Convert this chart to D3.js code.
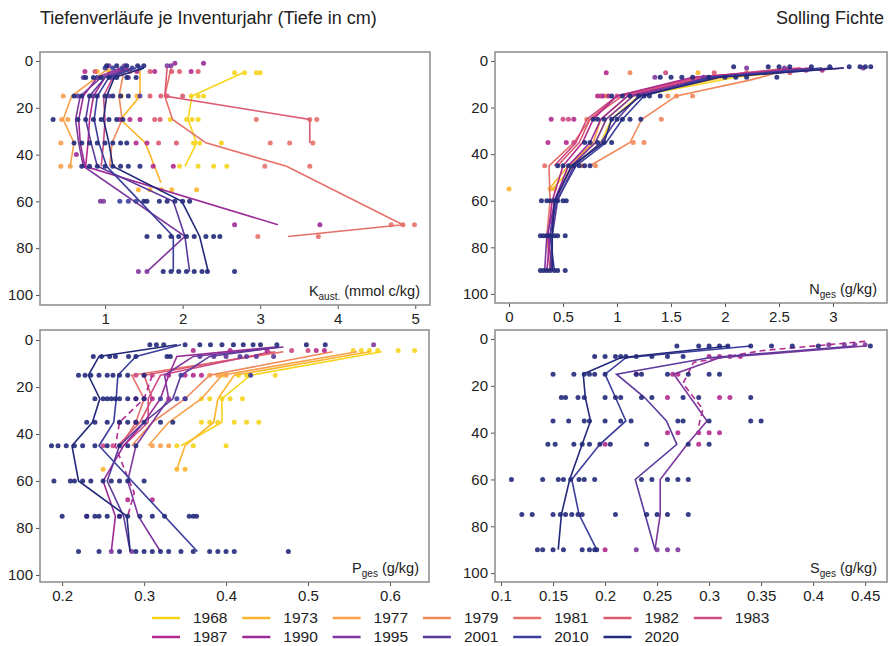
<!DOCTYPE html>
<html lang="de">
<head>
<meta charset="utf-8">
<title>Tiefenverläufe Solling Fichte</title>
<script src="https://d3js.org/d3.v7.min.js"></script>
<style>
  body { margin: 0; background: #fff; }
  text { font-family: "Liberation Sans", Arial, sans-serif; fill: #222; }
</style>
</head>
<body>
<div id="chart"></div>
<script>
// inventory years and their colours
var years = [1968, 1973, 1977, 1979, 1981, 1982, 1983, 1987, 1990, 1995, 2001, 2010, 2020];
var yearColors = ["#f6d41c", "#fbb52c", "#f8a04b", "#f0885a", "#e6706a", "#dc5a70", "#cd4a86",
                  "#b22a8e", "#9c2a98", "#7e379d", "#5b3a9b", "#3b3e9c", "#22297a"];

var depthTicks = [0, 20, 40, 60, 80, 100];
var kTicks = [1, 2, 3, 4, 5];
var nTicks = [0, 0.5, 1, 1.5, 2, 2.5, 3];
var pTicks = [0.2, 0.3, 0.4, 0.5, 0.6];
var sTicks = [0.1, 0.15, 0.2, 0.25, 0.3, 0.35, 0.4, 0.45];

// profile lines: [year, depths, values, dashed]
var kLines = [
  [1968, [5, 15, 25, 35, 45], [2.78, 2.12, 2.07, 2.18, 2.03]],
  [1973, [3, 15, 25, 35, 52], [1.45, 1.45, 1.2, 1.52, 1.72]],
  [1977, [3, 15, 25, 35, 45], [1.05, 0.57, 0.46, 0.6, 0.55]],
  [1979, [3, 15, 25, 35, 45], [1.25, 1.18, 1.22, 1.09, 1.06]],
  [1981, [3, 15, 25, 35, 45, 70, 75], [1.85, 1.77, 1.87, 2.3, 3.34, 4.84, 3.36]],
  [1982, [3, 15, 25, 35], [1.8, 1.77, 3.64, 3.64]],
  [1983, [3, 7, 15, 25, 35, 45], [1.35, 1.1, 0.98, 1.0, 0.98, 0.95]],
  [1987, [3, 7, 15, 25, 35, 45], [1.3, 1.0, 0.85, 0.8, 0.78, 0.75]],
  [1990, [3, 7, 15, 25, 35, 45, 70], [1.2, 0.9, 0.72, 0.66, 0.68, 0.74, 3.23]],
  [1995, [3, 7, 15, 25, 35, 45, 75, 90], [1.25, 0.95, 0.68, 0.62, 0.66, 0.72, 2.03, 1.54]],
  [2001, [3, 7, 15, 25, 35, 45, 60, 75, 90], [1.35, 1.0, 0.8, 0.75, 0.82, 0.9, 1.88, 2.03, 2.09]],
  [2010, [3, 7, 15, 25, 35, 45, 60, 75, 90], [1.4, 1.05, 0.9, 0.86, 0.92, 1.02, 1.45, 1.88, 1.88]],
  [2020, [3, 7, 15, 25, 35, 45, 60, 75, 90], [1.5, 1.12, 1.02, 0.98, 1.05, 1.1, 1.99, 2.22, 2.33]]
];
var nLines = [
  [1968, [3, 7, 15, 25, 35, 45, 55], [2.9, 2.1, 1.2, 0.95, 0.85, 0.6, 0.4]],
  [1973, [3, 7, 15, 25, 35, 45, 55], [2.8, 2.0, 1.15, 0.9, 0.8, 0.55, 0.37]],
  [1977, [3, 7, 15, 25, 35, 45], [2.6, 1.9, 1.1, 0.85, 0.78, 0.55]],
  [1979, [3, 8, 15, 25, 35, 45], [2.65, 2.25, 1.55, 1.23, 1.12, 0.75]],
  [1981, [3, 7, 15, 25, 35, 45, 60, 75, 90], [2.7, 1.8, 1.0, 0.75, 0.6, 0.37, 0.38, 0.35, 0.38]],
  [1982, [3, 7, 15, 25, 35, 45], [2.6, 1.8, 1.05, 0.75, 0.65, 0.45]],
  [1983, [3, 7, 15, 25, 35, 45], [2.7, 1.75, 1.0, 0.72, 0.62, 0.42]],
  [1987, [3, 7, 15, 25, 35, 45, 60, 75, 90], [2.8, 1.7, 1.0, 0.78, 0.68, 0.5, 0.4, 0.36, 0.4]],
  [1990, [3, 7, 15, 25, 35, 45, 60, 75, 90], [3.0, 1.85, 1.1, 0.85, 0.75, 0.55, 0.42, 0.38, 0.35]],
  [1995, [3, 7, 15, 25, 35, 45, 60, 75, 90], [3.1, 1.9, 1.15, 0.9, 0.8, 0.58, 0.43, 0.35, 0.33]],
  [2001, [3, 7, 15, 25, 35, 45, 60, 75, 90], [3.0, 1.9, 1.2, 1.0, 0.85, 0.6, 0.45, 0.4, 0.38]],
  [2010, [3, 7, 15, 25, 35, 45, 60, 75, 90], [2.9, 1.85, 1.25, 1.05, 0.9, 0.62, 0.44, 0.38, 0.42]],
  [2020, [3, 7, 15, 25, 35, 45, 60, 75, 90], [3.1, 1.95, 1.22, 0.95, 0.88, 0.58, 0.42, 0.4, 0.4]]
];
var pLines = [
  [1968, [5, 15, 25, 35, 45], [0.59, 0.43, 0.395, 0.395, 0.345]],
  [1973, [5, 15, 25, 35, 45, 55], [0.575, 0.41, 0.39, 0.385, 0.35, 0.34]],
  [1977, [5, 15, 25, 35, 45], [0.56, 0.395, 0.37, 0.33, 0.305]],
  [1979, [5, 15, 25, 35, 45], [0.53, 0.38, 0.35, 0.31, 0.285]],
  [1981, [5, 15, 25, 35, 45], [0.47, 0.285, 0.3, 0.29, 0.272]],
  [1982, [5, 15, 25, 35, 45], [0.46, 0.3, 0.31, 0.295, 0.268]],
  [1983, [5, 15, 25, 35, 45], [0.455, 0.32, 0.305, 0.305, 0.275]],
  [1987, [15, 25, 35, 45, 55, 65, 75], [0.31, 0.3, 0.27, 0.265, 0.276, 0.288, 0.28], true],
  [1990, [3, 7, 15, 25, 35, 45, 60, 75, 90], [0.46, 0.34, 0.33, 0.32, 0.3, 0.275, 0.25, 0.265, 0.26]],
  [1995, [3, 7, 15, 25, 35, 45, 60, 75, 90], [0.47, 0.36, 0.325, 0.33, 0.31, 0.29, 0.28, 0.293, 0.32]],
  [2001, [3, 7, 15, 25, 35, 45, 60, 75, 90], [0.465, 0.38, 0.345, 0.335, 0.3, 0.27, 0.255, 0.275, 0.283]],
  [2010, [2, 7, 15, 25, 35, 45, 90], [0.345, 0.29, 0.268, 0.266, 0.263, 0.245, 0.365]],
  [2020, [2, 7, 15, 25, 35, 45, 60, 75, 90], [0.34, 0.245, 0.232, 0.246, 0.237, 0.212, 0.22, 0.279, 0.283]]
];
var sLines = [
  [1987, [1, 5, 10, 19, 30, 37], [0.45, 0.35, 0.285, 0.275, 0.294, 0.29], true],
  [1995, [3, 8, 15, 25, 35, 45, 60, 75, 90], [0.45, 0.31, 0.266, 0.282, 0.298, 0.279, 0.253, 0.253, 0.248]],
  [2001, [3, 8, 15, 25, 35, 45, 60, 90], [0.44, 0.3, 0.211, 0.238, 0.259, 0.269, 0.229, 0.248]],
  [2010, [3, 8, 15, 25, 35, 45, 60, 75, 90], [0.34, 0.22, 0.2, 0.21, 0.22, 0.195, 0.168, 0.175, 0.192]],
  [2020, [3, 8, 15, 25, 35, 45, 60, 75, 90], [0.32, 0.215, 0.179, 0.181, 0.186, 0.178, 0.166, 0.158, 0.155]]
];

// single samples: [year, depth, values]
var kPts = [
  [2020, 2, [1.02, 1.15, 1.28, 1.42, 1.5]], [2010, 3, [1.0, 1.1, 1.22, 1.35, 1.45]],
  [1995, 2, [1.05, 1.25, 1.8, 1.85]], [1990, 1, [1.9, 2.27]],
  [1987, 4.5, [0.74, 1.19, 1.41, 1.64, 2.11]], [1982, 4.5, [0.87, 1.32, 1.58, 1.86, 1.96, 2.2]],
  [1968, 5, [2.67, 2.8, 2.95, 3.0]], [1973, 4.5, [0.9, 1.05]],
  [2020, 7, [0.75, 0.85, 0.95, 1.05, 1.15, 1.28, 1.4]], [2001, 7, [0.72, 0.9, 1.1, 1.3]],
  [1977, 15, [0.46]], [1973, 15, [1.21, 1.41]], [1982, 15, [1.58, 1.72, 1.8, 2.0]], [1968, 15, [2.11, 2.2, 2.27]],
  [2020, 15, [0.6, 0.7, 0.8, 0.9, 1.0, 1.1, 1.2, 1.3]], [2001, 15, [0.65, 0.85, 1.05, 1.45]],
  [2020, 25, [0.33, 0.65, 0.75, 0.85, 0.95, 1.05, 1.15, 1.23]], [1977, 25, [0.44, 0.52]],
  [1987, 25, [1.19, 1.32, 1.45]], [1982, 25, [1.64, 1.71]], [1968, 25, [1.84, 2.05, 2.12, 2.2]],
  [1981, 25, [2.95, 3.64, 3.73]],
  [1977, 35, [0.43]], [2020, 35, [0.6, 0.7, 0.8, 0.9, 1.0, 1.1, 1.2, 1.28]], [1987, 35, [1.4, 1.54]],
  [1982, 35, [1.69, 1.92]], [1968, 35, [2.14, 2.22, 2.5]], [1981, 35, [3.13, 3.38, 3.68]],
  [1990, 40, [0.63]],
  [1977, 45, [0.43, 0.55]], [2020, 45, [0.7, 0.8, 0.9, 1.0, 1.1, 1.2, 1.3, 1.45]], [1987, 45, [1.62, 1.88]],
  [1968, 45, [1.96, 2.2, 2.4, 2.57]], [1981, 45, [3.06, 3.64]],
  [1973, 55, [1.43, 1.58, 1.73, 1.86, 2.18]],
  [1995, 60, [0.94, 0.98]], [2010, 60, [1.19, 1.3, 1.4]], [2020, 60, [1.5, 1.54, 1.7, 1.8, 1.9, 2.0, 2.09]],
  [1990, 70, [2.67, 3.77]], [1981, 70, [4.69, 4.84, 4.99]],
  [2020, 75, [1.54, 1.7, 1.85, 1.95, 2.05, 2.15, 2.3, 2.4, 2.48]], [1981, 75, [2.97, 3.75]],
  [1995, 90, [1.43, 1.54]], [2020, 90, [1.75, 1.85, 1.95, 2.05, 2.15, 2.25, 2.32, 2.67]]
];
var nPts = [
  [2020, 2.5, [2.08, 2.4, 2.5, 2.6, 2.8, 2.97, 3.15, 3.25, 3.3, 3.35]], [1995, 3, [2.2, 2.55, 3.28]],
  [1987, 4, [2.9, 2.75]],
  [1987, 5, [0.9]], [1979, 5, [1.12]], [1983, 5, [1.45]], [1982, 5, [1.9, 2.2, 2.6]], [1973, 5, [1.75]],
  [2020, 7, [1.4, 1.5, 1.6, 1.7, 1.85, 2.0, 2.1, 2.2, 2.48]], [1995, 7, [1.35, 1.8]],
  [1987, 15, [0.82, 0.87, 0.92]], [1983, 15, [0.85, 1.0]],
  [2020, 15, [0.95, 1.05, 1.12, 1.2, 1.25, 1.3, 1.4]], [1979, 15, [1.47, 1.55, 1.7]], [1973, 15, [0.9]],
  [1987, 25, [0.39, 0.6]], [1983, 25, [0.5, 0.55]],
  [2020, 25, [0.78, 0.82, 0.88, 0.95, 1.0, 1.05, 1.12, 1.22]], [1979, 25, [1.41, 0.72]],
  [1987, 35, [0.36, 0.53]], [1983, 35, [0.6]], [2020, 35, [0.7, 0.75, 0.82, 0.88, 0.95]], [1979, 35, [1.25, 1.15]],
  [1981, 45, [0.33]], [2020, 45, [0.45, 0.5, 0.55, 0.6, 0.65, 0.7, 0.75]], [1979, 45, [0.8, 0.68]],
  [1973, 55, [0.0, 0.38, 0.42]],
  [2020, 60, [0.3, 0.35, 0.38, 0.42, 0.45, 0.5, 0.53]],
  [2020, 75, [0.29, 0.32, 0.35, 0.38, 0.42, 0.45, 0.52]],
  [2020, 90, [0.29, 0.32, 0.35, 0.38, 0.42, 0.45, 0.52]]
];
var pPts = [
  [2020, 2, [0.307, 0.315, 0.324, 0.35, 0.368, 0.381, 0.395, 0.409, 0.421, 0.433, 0.442, 0.462, 0.498, 0.521]],
  [1995, 2, [0.58]],
  [1987, 4.5, [0.36, 0.405, 0.45, 0.51, 0.52]], [1983, 4.5, [0.48, 0.5]],
  [1968, 4.5, [0.555, 0.565, 0.575, 0.585, 0.61, 0.63]],
  [2020, 7, [0.238, 0.248, 0.258, 0.265, 0.281, 0.29, 0.328, 0.332]],
  [2001, 7, [0.368, 0.385, 0.4, 0.417, 0.425, 0.437, 0.458]],
  [2020, 15, [0.22, 0.228, 0.235, 0.245, 0.255, 0.262, 0.27, 0.28, 0.3]], [1983, 15, [0.29, 0.3, 0.31]],
  [1987, 15, [0.33, 0.35, 0.36, 0.37]], [1977, 15, [0.38, 0.39, 0.4]], [1968, 15, [0.395, 0.415, 0.425, 0.46]],
  [2010, 15, [0.345, 0.43]],
  [2020, 25, [0.24, 0.25, 0.255, 0.26, 0.265, 0.27, 0.28, 0.29, 0.3]], [1987, 25, [0.29, 0.3, 0.31, 0.33, 0.35]],
  [2010, 25, [0.32, 0.34, 0.35]], [1968, 25, [0.37, 0.38, 0.395, 0.405, 0.42]],
  [2020, 35, [0.23, 0.24, 0.255, 0.27, 0.28, 0.29, 0.3, 0.32, 0.335]], [1987, 35, [0.27, 0.29]],
  [1968, 35, [0.37, 0.38, 0.39, 0.41, 0.425, 0.44]],
  [2020, 45, [0.187, 0.195, 0.205, 0.215, 0.225, 0.24, 0.255, 0.27, 0.28, 0.29]], [1983, 45, [0.25, 0.262]],
  [1977, 45, [0.31, 0.32, 0.33]], [1968, 45, [0.34, 0.36, 0.4]],
  [1973, 55, [0.25, 0.34, 0.35]],
  [2020, 60, [0.19, 0.21, 0.215, 0.225, 0.235, 0.25, 0.26, 0.27, 0.28, 0.3]],
  [1987, 68, [0.28, 0.31]],
  [2020, 75, [0.2, 0.23, 0.24, 0.245, 0.255, 0.27, 0.28, 0.295, 0.31, 0.325, 0.355, 0.36, 0.364]],
  [1995, 75, [0.23, 0.27]],
  [2020, 90, [0.22, 0.245, 0.27, 0.29, 0.3, 0.31, 0.32, 0.33, 0.345, 0.36, 0.38, 0.39, 0.4, 0.41, 0.476]],
  [1995, 90, [0.26, 0.285]]
];
var sPts = [
  [2020, 3, [0.269, 0.29, 0.3, 0.31, 0.318, 0.34, 0.36, 0.38, 0.405, 0.455]], [1995, 2.5, [0.415, 0.43, 0.44, 0.45]],
  [2020, 7.5, [0.19, 0.2, 0.21, 0.215, 0.22, 0.23, 0.245, 0.26, 0.275]], [1987, 7.5, [0.3, 0.31, 0.32, 0.33]],
  [2020, 15, [0.15, 0.17, 0.18, 0.185, 0.19, 0.2, 0.23, 0.235, 0.26, 0.28, 0.3, 0.31]], [1987, 15, [0.23, 0.265, 0.27]],
  [2020, 25, [0.158, 0.162, 0.174, 0.18, 0.2, 0.21, 0.215, 0.235, 0.245, 0.275, 0.29, 0.34]], [1987, 25, [0.26, 0.31, 0.32]],
  [2020, 35, [0.15, 0.165, 0.18, 0.185, 0.2, 0.215, 0.225, 0.27, 0.275, 0.3, 0.34, 0.35]],
  [1987, 40, [0.26, 0.27, 0.29, 0.3, 0.31]],
  [2020, 45, [0.145, 0.152, 0.17, 0.178, 0.185, 0.195, 0.205, 0.24, 0.28, 0.3]], [1987, 45, [0.2, 0.29]],
  [2020, 60, [0.11, 0.14, 0.155, 0.16, 0.167, 0.175, 0.18, 0.19, 0.235, 0.245, 0.26, 0.27, 0.28]],
  [2020, 75, [0.12, 0.13, 0.15, 0.157, 0.162, 0.168, 0.174, 0.178, 0.21, 0.24, 0.25, 0.26, 0.28]],
  [2020, 90, [0.135, 0.14, 0.15, 0.16, 0.178, 0.185, 0.19, 0.192]], [1987, 90, [0.2]],
  [1995, 90, [0.23, 0.25, 0.26, 0.27]]
];

var width = 891, height = 646;
var color = d3.scaleOrdinal().domain(years).range(yearColors);

var svg = d3.select("#chart").append("svg")
  .attr("width", width).attr("height", height);

svg.append("text").attr("x", 40).attr("y", 24)
  .style("font-size", "18px").text("Tiefenverläufe je Inventurjahr (Tiefe in cm)");
svg.append("text").attr("x", 884).attr("y", 24).attr("text-anchor", "end")
  .style("font-size", "18px").text("Solling Fichte");

// panel layout
var panels = [
  { lines: kLines, pts: kPts, box: [40, 52, 430, 305], xd: [0.161, 5.19], yd: [-3.85, 104.3], ticks: kTicks, sym: "K", sub: "aust.", unit: " (mmol c/kg)" },
  { lines: nLines, pts: nPts, box: [495, 52, 887, 303], xd: [-0.13, 3.5], yd: [-3.86, 103.9], ticks: nTicks, sym: "N", sub: "ges", unit: " (g/kg)" },
  { lines: pLines, pts: pPts, box: [40, 330, 429, 582], xd: [0.173, 0.6476], yd: [-4.26, 103], ticks: pTicks, sym: "P", sub: "ges", unit: " (g/kg)" },
  { lines: sLines, pts: sPts, box: [495, 330, 887, 582], xd: [0.0942, 0.471], yd: [-3.85, 103.8], ticks: sTicks, sym: "S", sub: "ges", unit: " (g/kg)" }
];

panels.forEach(function (p) {
  var b = p.box;
  var x = d3.scaleLinear().domain(p.xd).range([b[0], b[2]]);
  var y = d3.scaleLinear().domain(p.yd).range([b[1], b[3]]);
  var g = svg.append("g");

  var yAxis = g.append("g").attr("transform", "translate(" + b[0] + ",0)")
    .call(d3.axisLeft(y).tickValues(depthTicks).tickSize(4).tickPadding(3));
  var xAxis = g.append("g").attr("transform", "translate(0," + b[3] + ")")
    .call(d3.axisBottom(x).tickValues(p.ticks).tickFormat(d3.format("~g")).tickSize(4).tickPadding(4));
  [xAxis, yAxis].forEach(function (a) {
    a.select(".domain").remove();
    a.selectAll("line").attr("stroke", "#555");
    a.selectAll("text").style("font-size", "15px").style("font-family", "'Liberation Sans', Arial, sans-serif").attr("fill", "#222");
  });

  var line = d3.line().x(function (d) { return x(d[1]); }).y(function (d) { return y(d[0]); });

  years.forEach(function (yr) {
    p.pts.filter(function (r) { return r[0] === yr; }).forEach(function (r) {
      g.selectAll(null).data(r[2]).enter().append("circle")
        .attr("cx", function (v) { return x(v); })
        .attr("cy", y(r[1]))
        .attr("r", 2.5)
        .attr("fill", color(yr))
        .attr("opacity", 0.9);
    });
    p.lines.filter(function (l) { return l[0] === yr; }).forEach(function (l) {
      var pairs = l[1].map(function (d, i) { return [d, l[2][i]]; });
      g.append("path").datum(pairs)
        .attr("fill", "none")
        .attr("stroke", color(yr))
        .attr("stroke-width", 1.6)
        .attr("stroke-dasharray", l[3] ? "6,4" : null)
        .attr("d", line);
    });
  });

  g.append("rect")
    .attr("x", b[0]).attr("y", b[1])
    .attr("width", b[2] - b[0]).attr("height", b[3] - b[1])
    .attr("fill", "none").attr("stroke", "#8a8a8a").attr("stroke-width", 1.5);

  var lab = g.append("text").attr("x", b[2] - 10).attr("y", b[3] - 9)
    .attr("text-anchor", "end").style("font-size", "14.5px");
  lab.append("tspan").text(p.sym);
  lab.append("tspan").attr("dy", 4).style("font-size", "10px").text(p.sub);
  lab.append("tspan").attr("dy", -4).text(p.unit);
});

// legend
var leg = svg.append("g");
years.forEach(function (yr, i) {
  var col = i % 7, row = Math.floor(i / 7);
  var lx = 152 + col * 90.3, ly = 618 + row * 19;
  leg.append("line").attr("x1", lx).attr("x2", lx + 28).attr("y1", ly).attr("y2", ly)
    .attr("stroke", color(yr)).attr("stroke-width", 2.5);
  leg.append("text").attr("x", lx + 41).attr("y", ly).attr("dy", "0.35em")
    .style("font-size", "15.5px").text(yr);
});
</script>
</body>
</html>
